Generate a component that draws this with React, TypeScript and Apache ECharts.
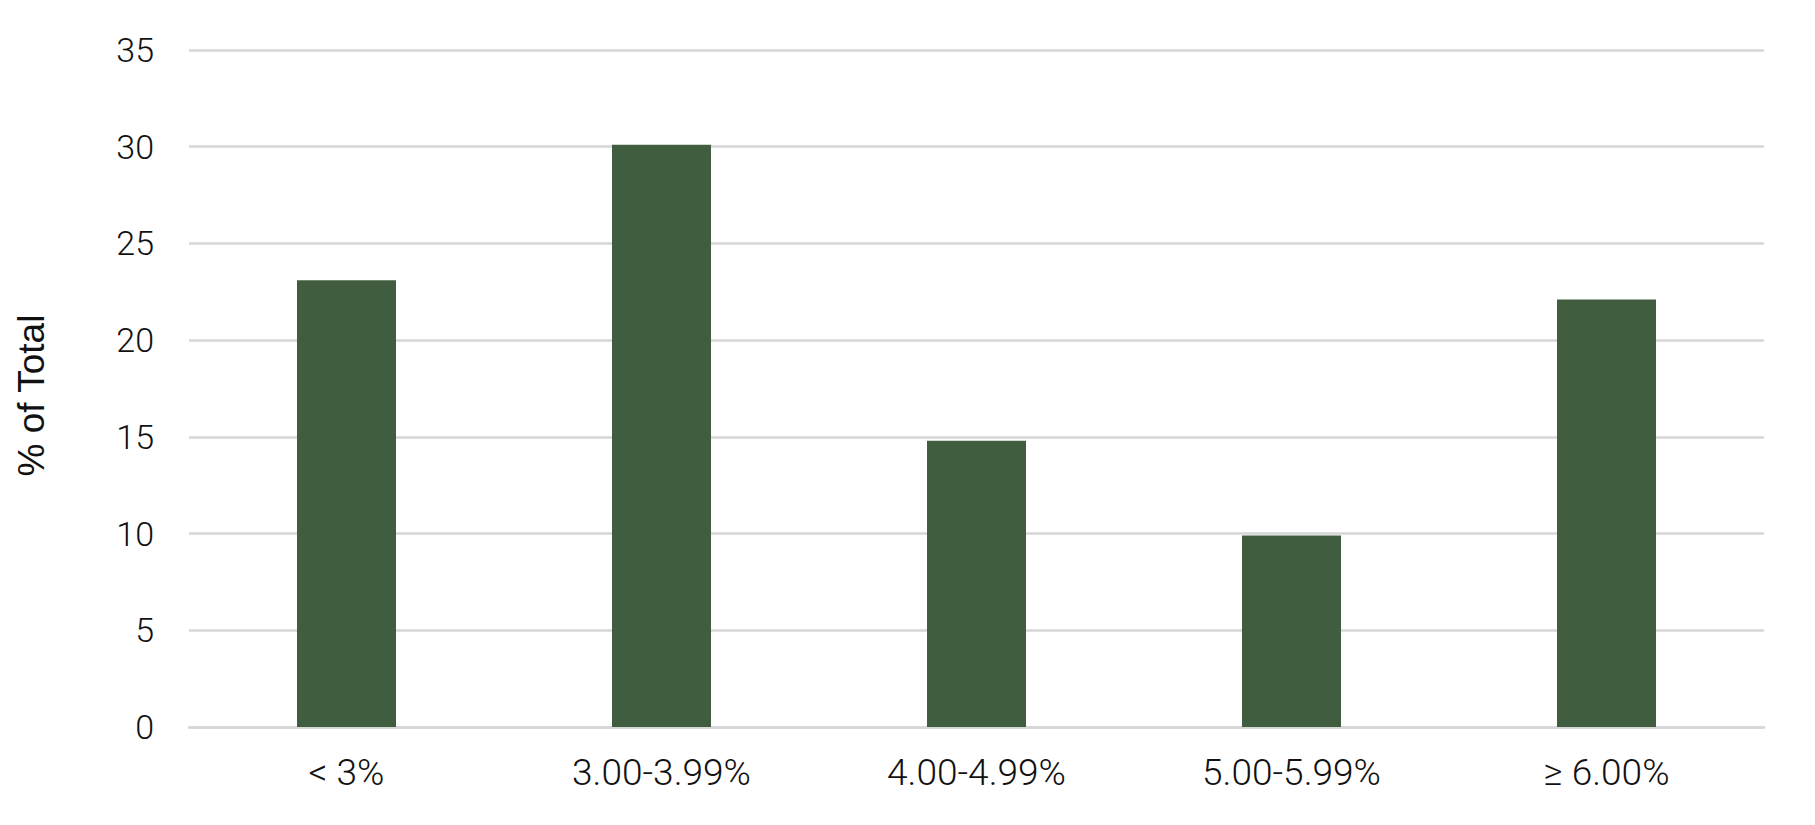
import React, { useEffect, useRef } from "react";
import * as echarts from "echarts";

const categories = ["< 3%", "3.00-3.99%", "4.00-4.99%", "5.00-5.99%", "≥ 6.00%"];
const values = [23.1, 30.1, 14.8, 9.9, 22.1];
const yTicks = { min: 0, max: 35, interval: 5 };

export default function App() {
  const ref = useRef<HTMLDivElement>(null);
  useEffect(() => {
    document.body.style.margin = "0";
    const chart = echarts.init(ref.current!, null, { renderer: "svg" });
    chart.setOption({
      animation: false,
      backgroundColor: "#ffffff",
      grid: { left: 189, right: 51, top: 50, bottom: 98 },
      xAxis: {
        type: "category",
        data: categories,
        axisLine: { show: true, lineStyle: { color: "#d6d6d6", width: 2.5 } },
        axisTick: { show: false },
        axisLabel: {
          margin: 27,
          fontFamily: "Roboto",
          fontWeight: 300,
          fontSize: 37,
          color: "#111111",
        },
      },
      yAxis: {
        type: "value",
        min: yTicks.min,
        max: yTicks.max,
        interval: yTicks.interval,
        name: "% of Total",
        nameLocation: "middle",
        nameGap: 139,
        nameTextStyle: {
          fontFamily: "Liberation Sans",
          fontSize: 37,
          color: "#111111",
          padding: [0, 14, 0, 0],
        },
        axisLine: { show: false },
        axisTick: { show: false },
        splitLine: { lineStyle: { color: "#d6d6d6", width: 2.5 } },
        axisLabel: {
          margin: 35,
          fontFamily: "Roboto",
          fontWeight: 300,
          fontSize: 34,
          color: "#111111",
        },
      },
      series: [
        {
          type: "bar",
          data: values,
          barWidth: 99,
          itemStyle: { color: "#405e3f" },
        },
      ],
    });
    return () => chart.dispose();
  }, []);
  return <div ref={ref} style={{ width: 1815, height: 825 }} />;
}
